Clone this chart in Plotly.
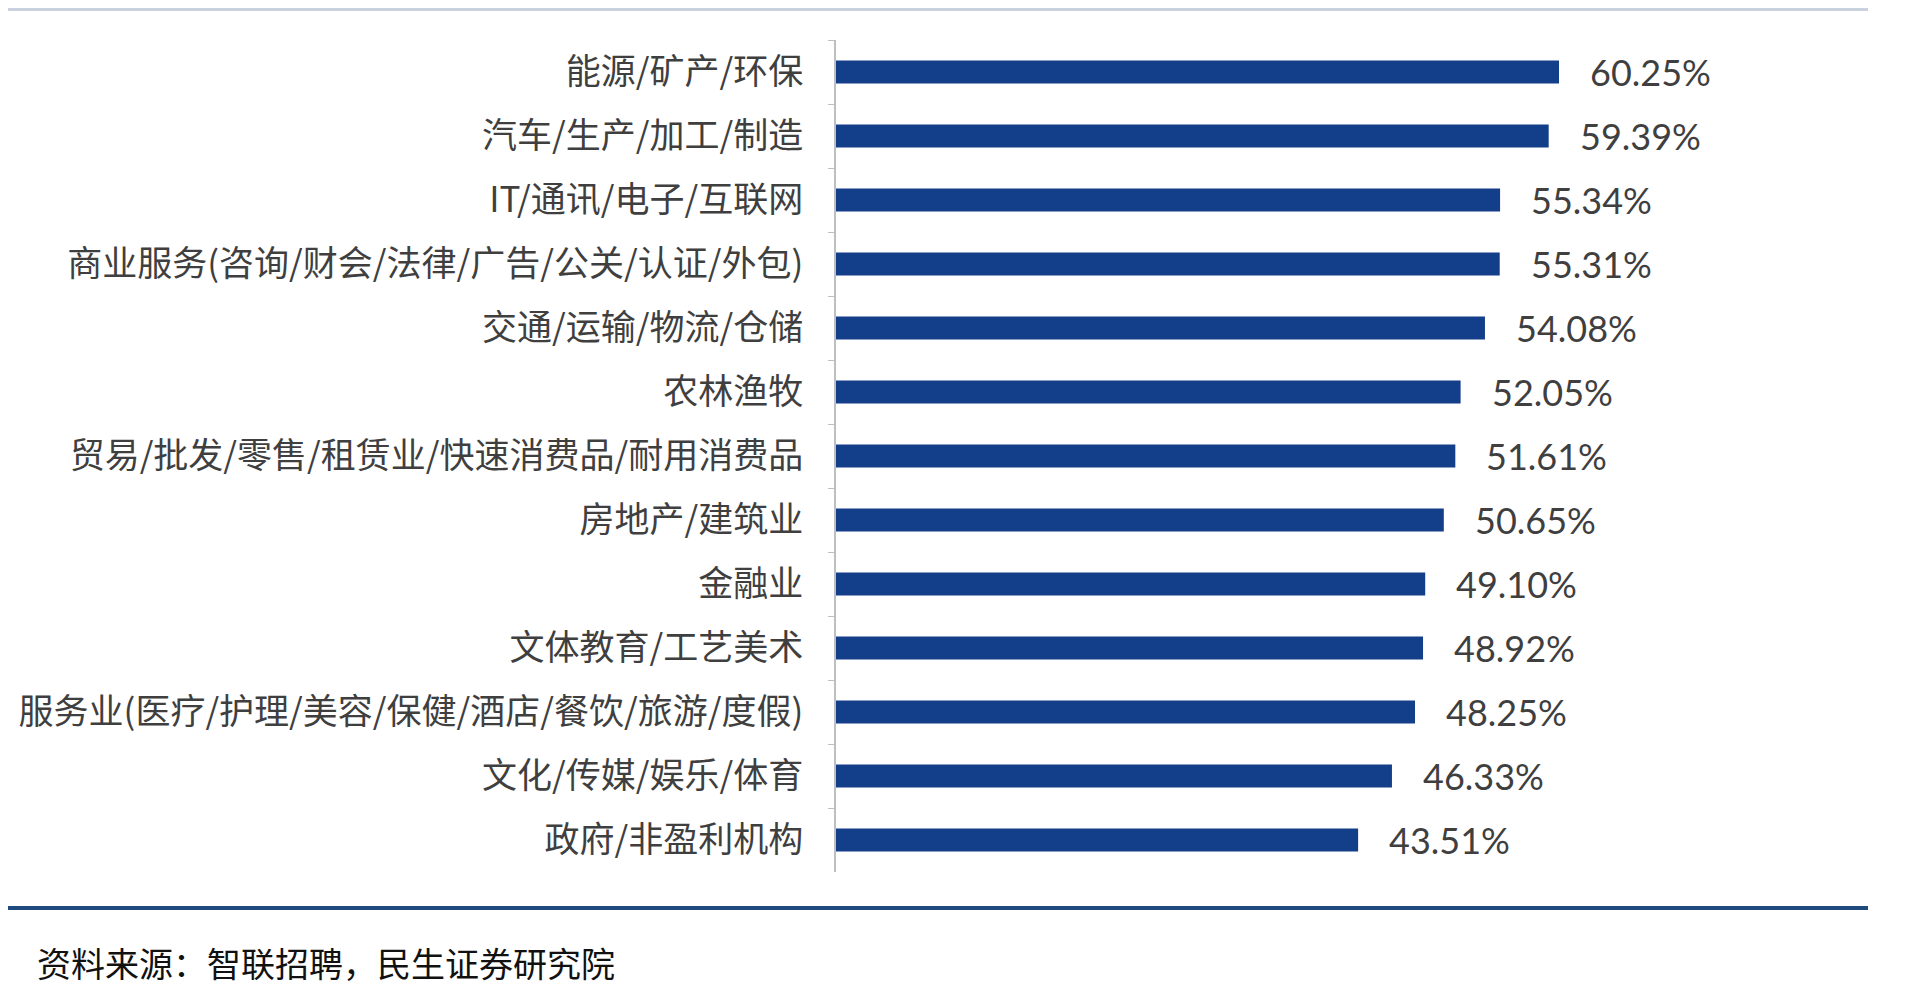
import plotly.graph_objects as go

# 行业与比例数据（从上到下）
categories = [
    "能源/矿产/环保",
    "汽车/生产/加工/制造",
    "IT/通讯/电子/互联网",
    "商业服务(咨询/财会/法律/广告/公关/认证/外包)",
    "交通/运输/物流/仓储",
    "农林渔牧",
    "贸易/批发/零售/租赁业/快速消费品/耐用消费品",
    "房地产/建筑业",
    "金融业",
    "文体教育/工艺美术",
    "服务业(医疗/护理/美容/保健/酒店/餐饮/旅游/度假)",
    "文化/传媒/娱乐/体育",
    "政府/非盈利机构",
]
values = [60.25, 59.39, 55.34, 55.31, 54.08, 52.05, 51.61, 50.65, 49.10, 48.92, 48.25, 46.33, 43.51]
source_text = "资料来源：智联招聘，民生证券研究院"

# 页面有 8px 边距，图本身小 16px
W, H = 1904, 990
OFF = 8


def px(x):
    return (x - OFF) / W


def py(y):
    return 1 - (y - OFF) / H


bar_color = "#133E8A"
text_color = "#3F3F3F"

fig = go.Figure(go.Bar(
    x=values,
    y=categories,
    orientation="h",
    marker=dict(color=bar_color, line=dict(width=0)),
    hoverinfo="x+y",
))

# 数值标签
for v, c in zip(values, categories):
    fig.add_annotation(
        x=v, y=c, text=f"{v:.2f}%", showarrow=False,
        xanchor="left", yanchor="middle", xshift=29,
        font=dict(family="Lato, Open Sans, sans-serif", size=36, color=text_color),
    )

# 上下分隔线
fig.add_shape(type="line", xref="paper", yref="paper",
              x0=0, x1=px(1868), y0=1 - 1.5 / H, y1=1 - 1.5 / H,
              line=dict(color="#C9D2DE", width=3))
fig.add_shape(type="line", xref="paper", yref="paper",
              x0=0, x1=px(1868), y0=py(908), y1=py(908),
              line=dict(color="#1F4A7E", width=4))

# 资料来源
fig.add_annotation(
    x=px(35), y=py(962), xref="paper", yref="paper",
    text=source_text, showarrow=False, xanchor="left", yanchor="middle",
    font=dict(family="Noto Sans CJK SC", size=34, color="#111111"),
)

fig.update_layout(
    width=W, height=H,
    margin=dict(l=0, r=0, t=0, b=0),
    paper_bgcolor="white", plot_bgcolor="white",
    bargap=0.64,
    showlegend=False,
    font=dict(family="Noto Sans CJK SC", color=text_color),
    xaxis=dict(domain=[px(836), px(1796)], range=[0, 80],
               visible=False, fixedrange=True),
    yaxis=dict(domain=[py(872), py(40)],
               autorange="reversed", type="category",
               showline=True, linecolor="#BFBFBF", linewidth=1.5,
               ticks="outside", ticklen=6, tickcolor="#BFBFBF",
               tickson="boundaries", ticklabelstandoff=24,
               tickfont=dict(family="Noto Sans CJK SC", size=35, color=text_color),
               showgrid=False, fixedrange=True),
)

fig.write_html("out.html")
